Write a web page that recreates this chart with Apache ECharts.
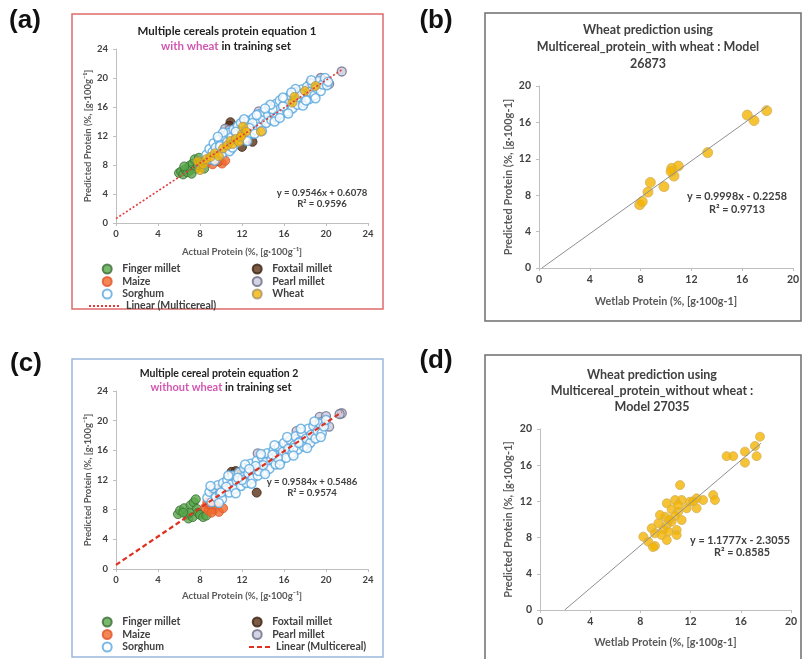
<!DOCTYPE html>
<html><head><meta charset="utf-8">
<script src="https://cdn.jsdelivr.net/npm/echarts@6/dist/echarts.min.js"></script>
<style>html,body{margin:0;padding:0;background:#fff}#c{width:803px;height:659px}</style>
</head><body><div id="c"></div>
<script>
// ---------- tick labels ----------
const ticks24 = [0, 4, 8, 12, 16, 20, 24];
const ticks20 = [0, 4, 8, 12, 16, 20];

// ---------- panel (a): with wheat in training set ----------
const fingerA = [[6.0,6.9],[6.2,7.1],[6.4,6.7],[6.6,7.4],[6.8,7.0],[7.0,7.9],[7.1,7.3],[7.3,8.2],[7.5,8.8],[7.6,7.5],[7.8,8.0],[7.9,9.0],[8.1,8.3],[6.5,7.8],[7.2,6.8],[8.4,7.5]];
const foxtailA = [[10.9,13.9],[10.8,13.4],[13.0,11.2],[12.0,10.5],[9.8,8.5]];
const maizeA = [[8.8,8.5],[9.2,8.1],[9.6,8.8],[10.1,8.2],[10.4,8.6]];
const pearlA = [[21.5,20.9],[20.3,19.2],[19.5,20.0],[19.3,19.4],[19.0,18.9],[18.5,19.3],[17.0,18.1],[16.5,16.6],[13.6,15.4],[10.4,13.0],[10.8,12.8],[19.8,19.6],[18.2,18.4]];
const sorghumA = [[8.6,9.4],[8.9,10.2],[9.0,8.8],[9.2,9.8],[9.3,11.0],[9.5,10.4],[9.6,9.2],[9.8,11.5],[10.0,10.8],[10.1,9.6],[10.3,11.9],[10.4,10.3],[10.6,11.2],[10.7,12.4],[10.9,10.1],[11.0,11.8],[11.2,12.9],[11.3,10.9],[11.5,12.2],[11.6,13.4],[11.8,11.4],[12.0,12.8],[12.1,13.9],[12.3,11.7],[12.4,12.9],[12.6,14.1],[12.8,12.3],[12.9,13.3],[13.1,14.5],[13.3,12.8],[13.5,13.9],[13.6,15.0],[13.8,13.3],[14.0,14.3],[14.1,15.3],[14.3,13.8],[14.5,14.9],[14.6,16.0],[14.8,14.2],[15.0,15.3],[15.2,16.4],[15.3,14.6],[15.5,15.6],[15.6,16.9],[15.8,15.1],[16.0,16.2],[16.1,17.2],[16.3,15.4],[16.5,16.6],[16.6,17.6],[16.8,15.8],[17.0,16.9],[17.2,18.0],[17.3,16.3],[17.5,17.3],[17.7,18.4],[17.9,16.6],[18.0,17.6],[18.2,18.8],[18.4,17.1],[18.5,18.1],[18.7,19.2],[18.9,17.6],[19.1,18.6],[19.3,19.6],[19.5,18.2],[19.7,19.1],[19.9,20.0],[20.1,19.0],[11.4,12.6],[13.0,13.8],[15.9,16.1],[9.9,10.6],[12.7,13.1],[14.9,15.7],[17.6,17.8],
  [9.4,8.6],[10.2,12.5],[10.8,9.9],[11.9,13.8],[12.5,11.3],[13.4,14.9],[13.9,12.7],[14.7,16.3],[15.1,14.0],[15.9,17.3],[16.4,15.1],[17.1,18.5],[17.8,16.2],[18.6,19.7],[19.0,17.2],[20.2,19.5],[12.2,14.3],[14.2,15.8],[16.7,18.0],[11.1,10.4],[13.2,12.3],[15.6,14.5],[18.1,16.9],[9.7,11.9]];
const wheatA = [[7.8,8.5],[8.0,7.3],[8.3,8.1],[8.6,8.8],[9.0,9.1],[9.4,9.6],[9.8,9.2],[10.2,10.3],[10.6,10.7],[10.9,11.3],[11.1,10.9],[11.4,11.6],[11.7,11.2],[12.0,12.3],[12.1,13.3],[12.4,12.6],[13.8,12.6],[16.8,16.6],[17.0,17.4],[18.0,18.2],[19.0,18.9],[11.9,11.9]];
const trendA = [[0,0.61],[21.5,21.13]];

// ---------- panel (b): wheat prediction, model 26873 ----------
const wheatB = [[7.93,6.95],[8.13,7.3],[8.58,8.34],[8.77,9.4],[9.84,8.94],[10.45,10.95],[10.63,10.1],[10.97,11.2],[13.28,12.68],[16.4,16.8],[16.93,16.2],[17.93,17.29],[10.4,10.6]];
const trendB = [[0.23,0],[18.0,17.77]];

// ---------- panel (c): without wheat in training set ----------
const fingerC = [[5.9,7.4],[6.1,7.9],[6.5,8.2],[6.8,7.3],[6.9,6.8],[7.1,8.6],[7.3,7.0],[7.4,9.0],[7.6,9.4],[7.7,8.1],[7.8,7.6],[8.0,7.3],[8.3,7.0],[8.6,7.2],[7.0,7.6],[6.4,7.6]];
const foxtailC = [[11.0,13.1],[11.4,13.2],[11.8,12.9],[13.4,10.3],[9.6,10.8],[9.3,10.6]];
const maizeC = [[8.5,8.3],[8.8,7.9],[9.0,8.6],[9.3,8.0],[9.5,8.7],[9.8,7.7],[10.2,8.2],[8.7,9.0],[9.1,7.6]];
const pearlC = [[21.5,21.0],[21.3,20.9],[19.4,20.5],[20.0,20.6],[20.3,19.2],[19.2,18.6],[18.7,18.2],[17.2,18.6],[16.5,17.0],[13.5,15.6],[19.5,19.8],[18.4,17.5]];
const sorghumC = [[8.7,9.6],[8.9,10.4],[9.1,9.0],[9.3,10.9],[9.5,9.7],[9.7,11.3],[9.9,10.2],[10.1,9.4],[10.2,11.6],[10.4,10.6],[10.6,12.0],[10.8,10.3],[11.0,11.4],[11.1,12.6],[11.3,10.8],[11.5,11.9],[11.7,13.0],[11.9,11.2],[12.1,12.4],[12.2,13.6],[12.4,11.6],[12.6,12.9],[12.8,14.2],[13.0,12.2],[13.2,13.4],[13.4,14.6],[13.5,12.6],[13.7,13.8],[13.9,15.1],[14.1,13.1],[14.3,14.4],[14.4,15.6],[14.6,13.5],[14.8,14.8],[15.0,16.0],[15.2,14.1],[15.3,15.3],[15.5,16.5],[15.7,14.6],[15.9,15.8],[16.0,17.0],[16.2,15.0],[16.4,16.2],[16.6,17.4],[16.8,15.6],[17.0,16.7],[17.1,17.9],[17.3,16.1],[17.5,17.2],[17.7,18.4],[17.9,16.5],[18.1,17.6],[18.3,18.9],[18.5,17.0],[18.6,18.1],[18.8,19.3],[19.0,17.6],[19.2,18.6],[19.4,19.6],[19.6,18.3],[19.8,19.2],[20.0,20.1],[12.0,12.0],[13.6,13.2],[15.4,15.0],[16.9,16.3],[10.5,11.1],[14.0,14.0],
  [9.0,11.2],[9.8,8.9],[10.7,12.6],[11.4,10.2],[12.3,14.1],[12.9,11.5],[13.8,15.5],[14.2,12.8],[15.1,16.7],[15.6,14.1],[16.3,17.8],[16.9,15.3],[17.6,18.9],[18.2,16.3],[18.9,19.9],[19.5,17.8],[11.6,12.3],[13.3,13.9],[14.9,15.4],[17.4,17.0],[10.0,10.3],[12.7,13.5]];
const trendC = [[0,0.55],[21.5,21.15]];

// ---------- panel (d): wheat prediction, model 27035 ----------
const wheatD = [[17.53,19.15],[17.13,18.12],[16.33,17.5],[17.26,17.0],[16.33,16.28],[15.4,17.0],[14.87,17.0],[11.16,13.8],[13.8,12.7],[13.94,12.15],[13.0,12.15],[10.76,12.15],[11.29,12.15],[11.95,11.97],[12.48,12.34],[10.1,11.79],[11.69,11.24],[12.48,11.24],[10.49,11.13],[11.02,10.87],[9.96,10.31],[10.76,10.39],[11.29,9.94],[9.56,10.5],[9.43,9.58],[10.1,9.39],[10.49,9.76],[8.9,9.03],[9.83,8.92],[10.23,8.65],[10.89,8.84],[9.16,8.47],[8.23,8.1],[9.69,8.29],[10.1,7.73],[10.89,8.29],[8.63,7.55],[9.16,7.07],[9.0,6.95],[11.0,11.6],[12.2,12.0],[10.3,10.0]];
const trendD = [[1.96,0],[17.6,18.42]];

// ---------- styling ----------
const F = 'Lato, "Open Sans", sans-serif';
const TXT = '#404040';
function xAx(gi, ticks, name, gap, fs, nfs) {
  return {type:'value', gridIndex:gi, min:ticks[0], max:ticks[ticks.length-1], interval:ticks[1]-ticks[0],
    name:name, nameLocation:'middle', nameGap:gap,
    nameTextStyle:{fontFamily:F, fontSize:nfs, fontWeight:'bold', color:'#595959'},
    axisLine:{show:true, onZero:false, lineStyle:{color:'#bfbfbf', width:1}},
    axisTick:{show:true, length:3, lineStyle:{color:'#bfbfbf'}},
    axisLabel:{fontFamily:F, fontSize:fs, fontWeight:'bold', color:TXT, margin:6},
    splitLine:{show:false}};
}
function yAx(gi, ticks, name, gap, fs, nfs) {
  const a = xAx(gi, ticks, name, gap, fs, nfs);
  a.axisLabel.margin = 8;
  return a;
}
const sty = {
  finger: {color:'#57a84a', borderColor:'#3b6b34', borderWidth:1},
  foxtail:{color:'#5a3216', borderColor:'#3a2010', borderWidth:1},
  maize:  {color:'#f06a2c', borderColor:'#e0552a', borderWidth:1},
  pearl:  {color:'#c9c9df', borderColor:'#6d6d84', borderWidth:1.3},
  sorghum:{color:'#ffffff', borderColor:'#5aa7df', borderWidth:1.5},
  wheat:  {color:'#f2b400', borderColor:'#a8946a', borderWidth:1},
  wheatBD:{color:'#f2b400', borderColor:'#d4b060', borderWidth:1}
};
function sc(name, gi, data, st, size) {
  return {type:'scatter', name:name, xAxisIndex:gi, yAxisIndex:gi, data:data, symbol:'circle', symbolSize:size, itemStyle:st, silent:true, animation:false};
}
function tl(name, gi, data, ls) {
  return {type:'line', name:name, xAxisIndex:gi, yAxisIndex:gi, data:data, symbol:'none', lineStyle:ls, itemStyle:{color:ls.color}, z:5, silent:true, animation:false};
}
const legFmt = n => n.split('|')[1];
const legText = {fontFamily:F, fontSize:10.5, fontWeight:'bold', color:TXT, lineHeight:12};
function leg(data, left, top, w, extra) {
  return Object.assign({data:data, orient:'vertical', left:left, top:top, itemGap:0.5, itemWidth:w, itemHeight:9, padding:0,
    formatter:legFmt, textStyle:legText, selectedMode:false}, extra||{});
}
function txt(x, y, text, size, extra) {
  return Object.assign({type:'text', x:x, y:y, silent:true, z:10,
    style:{text:text, fontFamily:F, fontSize:size, fontWeight:'bold', fill:TXT, align:'center', verticalAlign:'middle'}}, extra||{});
}
function rtxt(x, y, text, size, c1, c2) {
  return {type:'text', x:x, y:y, silent:true, z:10,
    style:{text:text, fontFamily:F, fontSize:size, fontWeight:'bold', fill:c1, align:'center', verticalAlign:'middle',
      rich:{m:{fill:c2, fontFamily:F, fontSize:size, fontWeight:'bold'}}}};
}
function lbl(x, y, t) {
  return {type:'text', x:x, y:y, silent:true,
    style:{text:t, fontFamily:'"Liberation Sans", Arial, sans-serif', fontSize:26, fontWeight:'bold', fill:'#111', align:'center', verticalAlign:'middle'}};
}
function box(x, y, w, h, c) {
  return {type:'rect', shape:{x:x, y:y, width:w, height:h}, silent:true, z:-1,
    style:{fill:'none', stroke:c, lineWidth:1.5}};
}

const xNameA = 'Actual Protein (%, [g\u00b7100g\u207b\u00b9]';
const yNameA = 'Predicted Protein (%, [g\u00b7100g\u207b\u00b9]';
const xNameB = 'Wetlab Protein (%, [g\u00b7100g-1]';
const yNameB = 'Predicted Protein (%, [g\u00b7100g-1]';
const noSym = {itemStyle:{opacity:0}};

const option = {
  backgroundColor:'#ffffff',
  animation:false,
  grid:[
    {left:116, top:49, width:252, height:174},
    {left:539, top:86, width:254, height:182},
    {left:116, top:391, width:252, height:178},
    {left:540, top:429, width:251, height:181}
  ],
  xAxis:[
    xAx(0, ticks24, xNameA, 24, 9.5, 9.6),
    xAx(1, ticks20, xNameB, 28, 10.5, 10.8),
    xAx(2, ticks24, xNameA, 22, 9.5, 9.6),
    xAx(3, ticks20, xNameB, 27, 10.5, 10.8)
  ],
  yAxis:[
    yAx(0, ticks24, yNameA, 22, 9.5, 9.5),
    yAx(1, ticks20, yNameB, 25, 10.5, 11),
    yAx(2, ticks24, yNameA, 22, 9.5, 9.5),
    yAx(3, ticks20, yNameB, 26, 10.5, 11)
  ],
  legend:[
    leg(['a|Finger millet','a|Maize','a|Sorghum'], 101.7, 263, 20),
    leg(['a|Foxtail millet','a|Pearl millet','a|Wheat'], 251.7, 263, 20),
    leg(['a|Linear (Multicereal)'], 88, 300, 32, noSym),
    leg(['c|Finger millet','c|Maize','c|Sorghum'], 101.7, 616, 20),
    leg(['c|Foxtail millet','c|Pearl millet'], 251.7, 616, 20),
    leg(['c|Linear (Multicereal)'], 248, 641, 22, noSym)
  ],
  series:[
    sc('a|Finger millet', 0, fingerA, sty.finger, 9),
    sc('a|Foxtail millet', 0, foxtailA, sty.foxtail, 9),
    sc('a|Maize', 0, maizeA, sty.maize, 9),
    sc('a|Pearl millet', 0, pearlA, sty.pearl, 9),
    sc('a|Sorghum', 0, sorghumA, sty.sorghum, 9),
    sc('a|Wheat', 0, wheatA, sty.wheat, 9),
    tl('a|Linear (Multicereal)', 0, trendA, {color:'#e03c3c', width:1.6, type:[2,2]}),
    sc('b|Wheat', 1, wheatB, sty.wheatBD, 10),
    tl('b|Linear', 1, trendB, {color:'#8f8f8f', width:1}),
    sc('c|Finger millet', 2, fingerC, sty.finger, 9),
    sc('c|Foxtail millet', 2, foxtailC, sty.foxtail, 9),
    sc('c|Maize', 2, maizeC, sty.maize, 9),
    sc('c|Pearl millet', 2, pearlC, sty.pearl, 9),
    sc('c|Sorghum', 2, sorghumC, sty.sorghum, 9),
    tl('c|Linear (Multicereal)', 2, trendC, {color:'#e0301e', width:2.2, type:[5,3]}),
    sc('d|Wheat', 3, wheatD, sty.wheatBD, 9),
    tl('d|Linear', 3, trendD, {color:'#8f8f8f', width:1})
  ],
  graphic:[
    box(72, 14, 311, 295, '#e06a6a'),
    box(485, 13, 316, 308, '#6e6e6e'),
    box(72, 359, 311, 298, '#9ab6dc'),
    box(485, 355, 316, 312, '#6e6e6e'),
    lbl(25, 21, '(a)'), lbl(436, 21, '(b)'), lbl(26, 364, '(c)'), lbl(436, 361, '(d)'),
    txt(227, 31, 'Multiple cereals protein equation 1', 11.5, {style:{text:'Multiple cereals protein equation 1', fontFamily:F, fontSize:11.5, fontWeight:'bold', fill:'#222', align:'center', verticalAlign:'middle'}}),
    rtxt(226, 46, '{m|with wheat} in training set', 11.5, '#222', '#d257b0'),
    txt(322, 193, 'y = 0.9546x + 0.6078', 9.6),
    txt(322, 204, 'R\u00b2 = 0.9596', 9.6),
    txt(648, 30, 'Wheat prediction using', 12.5),
    txt(648, 47, 'Multicereal_protein_with wheat : Model', 12.5),
    txt(648, 64, '26873', 12.5),
    txt(737, 197, 'y = 0.9998x - 0.2258', 10.8),
    txt(737, 210, 'R\u00b2 = 0.9713', 10.8),
    txt(219, 374, 'Multiple cereal protein equation 2', 10.5, {style:{text:'Multiple cereal protein equation 2', fontFamily:F, fontSize:10.5, fontWeight:'bold', fill:'#222', align:'center', verticalAlign:'middle'}}),
    rtxt(221, 387, '{m|without wheat} in training set', 11, '#222', '#d257b0'),
    txt(312, 482, 'y = 0.9584x + 0.5486', 9.6),
    txt(312, 493, 'R\u00b2 = 0.9574', 9.6),
    txt(652, 375, 'Wheat prediction using', 12.5),
    txt(652, 391, 'Multicereal_protein_without wheat :', 12.5),
    txt(652, 407, 'Model 27035', 12.5),
    txt(740, 541, 'y = 1.1777x - 2.3055', 10.8),
    txt(742, 553, 'R\u00b2 = 0.8585', 10.8)
  ]
};
const chart = echarts.init(document.getElementById('c'), null, {renderer:'canvas'});
chart.setOption(option);
</script>
</body></html>
